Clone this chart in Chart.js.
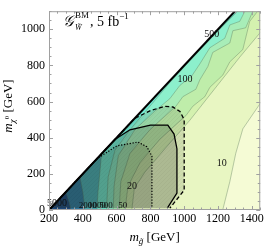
<!DOCTYPE html>
<html>
<head>
<meta charset="utf-8">
<title>Gluino reach</title>
<script src="https://cdn.jsdelivr.net/npm/chart.js@4.4.0/dist/chart.umd.min.js"></script>
<style>
  body { margin: 0; background: #fff; }
  canvas { display: block; }
</style>
</head>
<body>
<canvas id="myCanvas" width="266" height="247"></canvas>
<script>
// ticks
var xTicks = [200, 400, 600, 800, 1000, 1200, 1400];
var yTicks = [0, 200, 400, 600, 800, 1000];

// kinematic edge, m_chi = m_gluino - 200
var diagonal = [[200, 0], [1300, 1100]];

// contour lines (m_gluino, m_chi), upper end first
var c10 = [[1450, 590], [1347, 449], [1305, 313], [1270, 157], [1228, 0]];
var c20 = [[1450, 982], [1329, 846], [1152, 637], [1033, 496], [886, 339], [767, 209], [705, 120], [690, 0]];
var c50 = [[1435, 1100], [1388, 1044], [1347, 888], [1270, 820], [1229, 747], [1152, 679], [1122, 627],
           [1051, 574], [1010, 522], [856, 392], [738, 261], [667, 131], [650, 0]];
var c70 = [[1406, 1100], [1364, 1008], [1288, 992], [1270, 924], [1169, 872], [1140, 794], [1093, 721],
           [1069, 668], [992, 627], [951, 574], [797, 444], [679, 313], [625, 157], [615, 0]];
var c100 = [[1359, 1100], [1329, 1044], [1270, 1024], [1240, 950], [1152, 898], [1093, 809], [1045, 742],
            [974, 689], [915, 616], [827, 548], [708, 444], [610, 300], [585, 131], [580, 0]];
var c500 = [[1317, 1100], [1175, 966], [1033, 825], [915, 705], [797, 574], [679, 444], [590, 330], [550, 183], [540, 0]];
var c1000 = [[511, 311], [500, 200], [490, 100], [484, 0]];
var c2000 = [[383, 183], [400, 100], [413, 0]];
var c5000 = [[300, 100], [320, 40], [330, 0]];

var contours = [c10, c20, c50, c70, c100, c500, c1000, c2000, c5000];
// colour below the first level, then one per level
var bandColors = ['#f5fbd5', '#e8f6c2', '#d4f1af', '#bfedaa', '#a8edb8', '#8cf0cc', '#74eed6',
                  '#4cb6c0', '#2f7eaa', '#1d4c88'];

// exclusion regions
var dashedRegion = [[210, 10], [708, 508], [800, 550], [886, 574], [933, 570], [975, 545], [1000, 500],
                    [1000, 110], [915, 10]];
var solidRegion = [[210, 10], [590, 390], [679, 444], [800, 470], [903, 470], [940, 420], [957, 339],
                   [957, 94], [900, 10]];
var dottedRegion = [[210, 10], [484, 284], [602, 355], [726, 376], [779, 350], [809, 298], [809, 10]];

// contour labels
var labelText = ['500', '100', '10', '20', '5000'];
var labelPos = [[1163, 971], [1004, 721], [1222, 256], [691, 131], [247, 37]];
var bottomText = ['2000', '1000', '500', '50'];
var bottomPos = [[430, 24], [484, 24], [537, 24], [637, 24]];

var serif = "'Liberation Serif', serif";

function pts(a) {
  return a.map(function (p) { return {x: p[0], y: p[1]}; });
}

var datasets = [];
function addSet(data, o) {
  var ds = {
    data: pts(data), showLine: true, pointRadius: 0, tension: 0,
    borderColor: o.line || 'rgba(0,0,0,0)', borderWidth: o.width || 0,
    borderDash: o.dash || [], fill: o.fill ? 'shape' : false,
    backgroundColor: o.fill || 'rgba(0,0,0,0)'
  };
  ds.order = -datasets.length;  // later sets are drawn on top
  datasets.push(ds);
}

// filled bands
addSet([[200, 0], [1300, 1100], [1450, 1100], [1450, 0]], {fill: bandColors[0]});
contours.forEach(function (c, i) {
  var head;
  if (c[0][0] === 1450) head = [[200, 0], [1300, 1100], [1450, 1100]];
  else if (c[0][1] === 1100) head = [[200, 0], [1300, 1100]];
  else head = [[200, 0]];
  addSet(head.concat(c), {fill: bandColors[i + 1]});
});
// contour lines
contours.forEach(function (c) {
  addSet(c, {line: 'rgba(95,125,95,0.5)', width: 0.8});
});

// faint hatching for the exclusion regions
var tile = document.createElement('canvas');
tile.width = 4; tile.height = 4;
var tc = tile.getContext('2d');
tc.fillStyle = 'rgba(35,45,35,0.12)';
tc.fillRect(0, 0, 4, 4);
tc.strokeStyle = 'rgba(0,0,0,0.035)';
tc.beginPath(); tc.moveTo(0, 4); tc.lineTo(4, 0); tc.stroke();
var hatch = tc.createPattern(tile, 'repeat');

addSet(dashedRegion, {fill: hatch, line: '#000', width: 1.3, dash: [4, 2.5]});
addSet(solidRegion, {fill: 'rgba(35,45,35,0.2)', line: '#000', width: 1.3});
addSet(dottedRegion, {fill: 'rgba(35,45,35,0.15)', line: '#000', width: 1.2, dash: [1.3, 1.6]});
addSet(diagonal, {line: '#000', width: 2});

// frame with inward ticks, Mathematica style
var framePlugin = {
  id: 'frame',
  afterDraw: function (chart) {
    var ctx = chart.ctx, a = chart.chartArea, sx = chart.scales.x, sy = chart.scales.y, v, p, len;
    ctx.save();
    ctx.strokeStyle = '#a0a0a0';
    ctx.lineWidth = 1;
    ctx.strokeRect(a.left + 0.5, a.top + 0.5, a.right - a.left - 1, a.bottom - a.top - 1);
    ctx.beginPath();
    for (v = 200; v <= 1450; v += 50) {
      p = Math.round(sx.getPixelForValue(v)) + 0.5;
      len = v % 200 === 0 ? 4 : 2.5;
      ctx.moveTo(p, a.bottom); ctx.lineTo(p, a.bottom - len);
      ctx.moveTo(p, a.top); ctx.lineTo(p, a.top + len);
    }
    for (v = 0; v <= 1100; v += 50) {
      p = Math.round(sy.getPixelForValue(v)) + 0.5;
      len = v % 200 === 0 ? 4 : 2.5;
      ctx.moveTo(a.left, p); ctx.lineTo(a.left + len, p);
      ctx.moveTo(a.right, p); ctx.lineTo(a.right - len, p);
    }
    ctx.stroke();
    ctx.restore();
  }
};

function run(ctx, parts, x, y) {
  // parts: [text, font, rise]; returns end x
  parts.forEach(function (p) {
    ctx.font = p[1];
    ctx.fillText(p[0], x, y - (p[2] || 0));
    x += ctx.measureText(p[0]).width;
  });
  return x;
}
function runWidth(ctx, parts) {
  var w = 0;
  parts.forEach(function (p) { ctx.font = p[1]; w += ctx.measureText(p[0]).width; });
  return w;
}

var textPlugin = {
  id: 'texts',
  afterDatasetsDraw: function (chart) {
    var ctx = chart.ctx, sx = chart.scales.x, sy = chart.scales.y, a = chart.chartArea;
    ctx.save();
    ctx.fillStyle = '#111';
    ctx.textAlign = 'center';
    ctx.textBaseline = 'middle';
    ctx.font = '10px ' + serif;
    labelText.forEach(function (t, i) {
      ctx.fillText(t, sx.getPixelForValue(labelPos[i][0]), sy.getPixelForValue(labelPos[i][1]));
    });
    ctx.font = '9px ' + serif;
    bottomText.forEach(function (t, i) {
      ctx.fillText(t, sx.getPixelForValue(bottomPos[i][0]), sy.getPixelForValue(bottomPos[i][1]));
    });

    ctx.fillStyle = '#000';
    ctx.textAlign = 'left';
    ctx.textBaseline = 'alphabetic';
    // x axis title
    var xt = [['m', 'italic 13px ' + serif], ['g\u0303', 'italic 9px ' + serif, -3], [' [GeV]', '13px ' + serif]];
    run(ctx, xt, (a.left + a.right) / 2 - runWidth(ctx, xt) / 2, 241);
    // y axis title
    var yt = [['m', 'italic 13px ' + serif], ['\u03c7', 'italic 9px ' + serif, -3], ['0', '7px ' + serif, 3],
              [' [GeV]', '13px ' + serif]];
    ctx.save();
    ctx.translate(12, 106);
    ctx.rotate(-Math.PI / 2);
    run(ctx, yt, -runWidth(ctx, yt) / 2, 0);
    ctx.restore();
    // benchmark tag
    ctx.font = 'italic 15px ' + serif;
    ctx.fillText('\ud835\udca2', 63, 26);
    var gx = 63 + ctx.measureText('\ud835\udca2').width + 1;
    ctx.font = '9px ' + serif;
    ctx.fillText('BM', gx, 18);
    var bw = ctx.measureText('BM').width;
    ctx.font = 'italic 8px ' + serif;
    ctx.fillText('W\u0303', gx, 30);
    run(ctx, [[', 5 fb', '14px ' + serif], ['\u22121', '9px ' + serif, 7]], gx + bw + 1, 26);
    ctx.restore();
  }
};

var tickFont = {family: serif, size: 12};
function plain(v) { return String(v); }

new Chart(document.getElementById('myCanvas'), {
  type: 'scatter',
  data: {datasets: datasets},
  options: {
    responsive: false,
    animation: false,
    devicePixelRatio: 1,
    layout: {padding: {top: 0, right: 5, left: 0, bottom: 0}},
    plugins: {legend: {display: false}, tooltip: {enabled: false}},
    scales: {
      x: {
        type: 'linear', min: 200, max: 1450,
        grid: {display: false, drawTicks: false}, border: {display: false},
        afterBuildTicks: function (s) { s.ticks = xTicks.map(function (v) { return {value: v}; }); },
        afterFit: function (s) { s.height = 37; },
        ticks: {font: tickFont, color: '#000', padding: 2, maxRotation: 0, autoSkip: false, callback: plain}
      },
      y: {
        type: 'linear', min: 0, max: 1100,
        grid: {display: false, drawTicks: false}, border: {display: false},
        afterBuildTicks: function (s) { s.ticks = yTicks.map(function (v) { return {value: v}; }); },
        afterFit: function (s) { s.width = 49; },
        ticks: {font: tickFont, color: '#000', padding: 4, autoSkip: false, callback: plain}
      }
    }
  },
  plugins: [framePlugin, textPlugin]
});
</script>
</body>
</html>
